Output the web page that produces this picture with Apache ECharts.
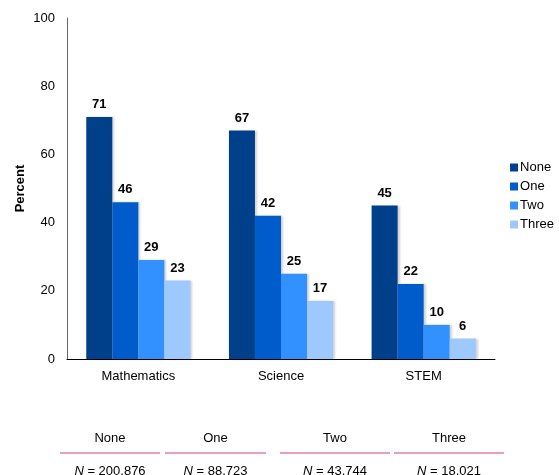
<!DOCTYPE html>
<html><head><meta charset="utf-8">
<script src="https://cdn.jsdelivr.net/npm/echarts@6/dist/echarts.min.js"></script>
<style>html,body{margin:0;padding:0;background:#fff}#c{width:559px;height:475px}</style>
</head><body><div id="c"></div>
<script>
const categories = ['Mathematics', 'Science', 'STEM'];
const seriesNames = ['None', 'One', 'Two', 'Three'];
const noneVals = [71, 67, 45];
const oneVals = [46, 42, 22];
const twoVals = [29, 25, 10];
const threeVals = [23, 17, 6];
const tableHeaders = ['None', 'One', 'Two', 'Three'];
const tableN = ['200,876', '88,723', '43,744', '18,021'];
const colors = ['#00408a', '#005bcb', '#3391ff', '#9dc9ff'];

const chart = echarts.init(document.getElementById('c'));
const font = '"Liberation Sans", Arial, sans-serif';
const vals = [noneVals, oneVals, twoVals, threeVals];

const series = seriesNames.map((n, i) => ({
  name: n, type: 'bar', data: vals[i], barGap: '0%', barCategoryGap: '27%',
  itemStyle: { color: colors[i], shadowColor: 'rgba(0,0,0,0.18)', shadowOffsetX: 2, shadowBlur: 2 },
  label: { show: true, position: 'top', color: '#000', fontWeight: 'bold', fontSize: 13, fontFamily: font, distance: 6 }
}));

// bottom table
const segX = [[60, 160], [165, 266], [280, 390], [394, 504]];
const graphic = [];
tableHeaders.forEach((h, i) => {
  const [a, b] = segX[i];
  const cx = (a + b) / 2;
  graphic.push({ type: 'text', x: cx, y: 432, style: { text: h, font: '13px ' + font, fill: '#000', textAlign: 'center' }, silent: true });
  graphic.push({ type: 'line', shape: { x1: a, y1: 453, x2: b, y2: 453 }, style: { stroke: '#d63a86', lineWidth: 1.2 } });
  graphic.push({ type: 'text', x: cx, y: 465, style: { rich: { i: { fontStyle: 'italic', fontSize: 13, fontFamily: font }, r: { fontSize: 13, fontFamily: font } }, text: '{i|N}{r| = ' + tableN[i] + '}', fill: '#000', align: 'center', textAlign: 'center' } });
});

chart.setOption({
  animation: false,
  color: colors,
  grid: { left: 67, right: 64, top: 18, bottom: 116, containLabel: false },
  legend: {
    orient: 'vertical', right: 0, top: 156, itemWidth: 8, itemHeight: 8, itemGap: 6, icon: 'rect',
    textStyle: { fontSize: 13, fontFamily: font, color: '#000', padding: [0, 0, 0, -3] },
    data: seriesNames
  },
  xAxis: {
    type: 'category', data: categories,
    axisLine: { lineStyle: { color: '#000', width: 1 } },
    axisTick: { show: false },
    axisLabel: { fontSize: 13, fontFamily: font, color: '#000', margin: 11 }
  },
  yAxis: {
    type: 'value', min: 0, max: 100, interval: 20,
    name: 'Percent', nameLocation: 'middle', nameGap: 40, nameMoveOverlap: false,
    nameTextStyle: { fontWeight: 'bold', fontSize: 13, fontFamily: font, color: '#000' },
    axisLine: { show: true, lineStyle: { color: '#666' } },
    axisTick: { show: false },
    splitLine: { show: false },
    axisLabel: { fontSize: 13, fontFamily: font, color: '#000', margin: 12 }
  },
  series: series,
  graphic: graphic
});
</script></body></html>
